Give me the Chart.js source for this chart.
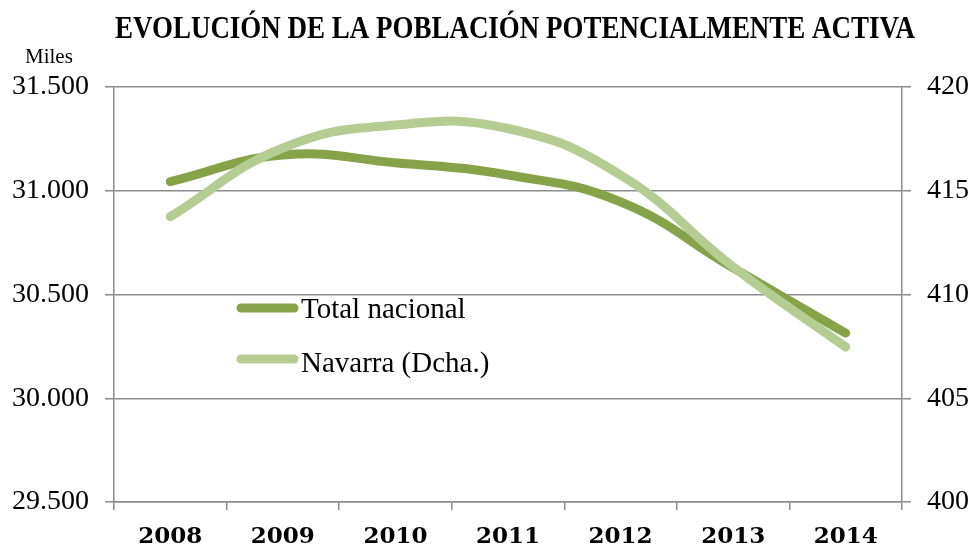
<!DOCTYPE html>
<html><head><meta charset="utf-8">
<script src="https://cdn.jsdelivr.net/npm/chart.js@4.4.1/dist/chart.umd.min.js"></script>
<style>html,body{margin:0;padding:0;background:#fff}canvas{display:block}</style>
</head><body>
<canvas id="c" width="975" height="548"></canvas>
<script>
const categories = ['2008', '2009', '2010', '2011', '2012', '2013', '2014'];
const totalNacional = [31044, 31172, 31135, 31076, 30946, 30628, 30314];
const navarra = [413.75, 417.06, 418.17, 418.0, 415.76, 411.33, 407.47];
const seriesNames = ['Total nacional', 'Navarra (Dcha.)'];
const chartTitle = 'EVOLUCIÓN DE LA POBLACIÓN POTENCIALMENTE ACTIVA';
const unitLabel = 'Miles';
const leftRange = [29500, 31500, 500];
const rightRange = [400, 420, 5];

const darkGreen = '#86a34a';
const lightGreen = '#b5cc93';
const axisGray = '#8c8c8c';

function fmtThousands(v) {
  return String(v).replace(/\B(?=(\d{3})+(?!\d))/g, '.');
}

const decorPlugin = {
  id: 'decor',
  afterDatasetsDraw(chart) {
    const ctx = chart.ctx;
    ctx.save();
    ctx.font = 'bold 31px "Liberation Serif"';
    ctx.fillStyle = '#000';
    ctx.textBaseline = 'alphabetic';
    const w = ctx.measureText(chartTitle).width;
    const target = 800;
    const sx = target / w;
    ctx.translate(515 - target / 2, 38);
    ctx.scale(sx, 1);
    ctx.textAlign = 'left';
    ctx.fillText(chartTitle, 0, 0);
    ctx.restore();

    ctx.save();
    ctx.font = '21px "Liberation Serif"';
    ctx.fillStyle = '#000';
    ctx.textAlign = 'left';
    ctx.fillText(unitLabel, 25, 63);

    const items = [
      {name: seriesNames[0], color: darkGreen, ly: 308, ty: 318},
      {name: seriesNames[1], color: lightGreen, ly: 359, ty: 372}
    ];
    ctx.font = '29px "Liberation Serif"';
    items.forEach(it => {
      ctx.strokeStyle = it.color;
      ctx.lineWidth = 9;
      ctx.lineCap = 'round';
      ctx.beginPath();
      ctx.moveTo(241, it.ly);
      ctx.lineTo(294, it.ly);
      ctx.stroke();
      ctx.fillStyle = '#000';
      ctx.fillText(it.name, 301, it.ty);
    });
    ctx.restore();
  }
};

new Chart(document.getElementById('c'), {
  type: 'line',
  data: {
    labels: categories,
    datasets: [
      {
        label: seriesNames[0],
        data: totalNacional,
        yAxisID: 'y',
        borderColor: darkGreen,
        borderWidth: 9,
        borderCapStyle: 'round',
        borderJoinStyle: 'round',
        pointRadius: 0,
        tension: 0.45,
        fill: false,
        order: 1
      },
      {
        label: seriesNames[1],
        data: navarra,
        yAxisID: 'y1',
        borderColor: lightGreen,
        borderWidth: 9,
        borderCapStyle: 'round',
        borderJoinStyle: 'round',
        pointRadius: 0,
        tension: 0.45,
        fill: false,
        order: 0
      }
    ]
  },
  options: {
    responsive: false,
    animation: false,
    layout: {padding: {top: 87, left: 0, right: 0, bottom: 0}},
    plugins: {
      legend: {display: false},
      title: {display: false},
      tooltip: {enabled: false}
    },
    scales: {
      x: {
        type: 'category',
        offset: true,
        grid: {offset: true, drawOnChartArea: false, drawTicks: true, tickLength: 8, color: axisGray, lineWidth: 1.5},
        border: {color: axisGray, width: 1.5},
        ticks: {font: {family: '"DejaVu Serif"', weight: 'bold', size: 23}, color: '#000', padding: 13, maxRotation: 0, autoSkip: false},
        afterFit(s) { s.height = 46; }
      },
      y: {
        position: 'left',
        min: leftRange[0], max: leftRange[1],
        ticks: {stepSize: leftRange[2], callback: v => fmtThousands(v), font: {family: '"Liberation Serif"', size: 28}, color: '#000', padding: 16},
        grid: {color: axisGray, lineWidth: 1.5, tickLength: 9},
        border: {color: axisGray, width: 1.5},
        afterFit(s) { s.width = 114; }
      },
      y1: {
        position: 'right',
        min: rightRange[0], max: rightRange[1],
        ticks: {stepSize: rightRange[2], font: {family: '"Liberation Serif"', size: 28}, color: '#000', padding: 16},
        grid: {drawOnChartArea: false, color: axisGray, lineWidth: 1.5, tickLength: 9},
        border: {color: axisGray, width: 1.5},
        afterFit(s) { s.width = 73; }
      }
    }
  },
  plugins: [decorPlugin]
});
</script>
</body></html>
